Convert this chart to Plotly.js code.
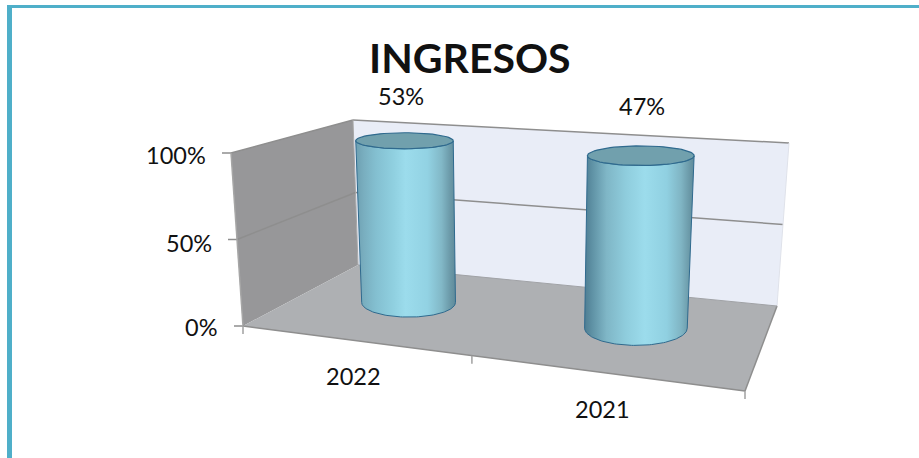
<!DOCTYPE html>
<html><head><meta charset="utf-8">
<script src="https://cdn.plot.ly/plotly-3.0.1.min.js"></script>
<style>html,body{margin:0;padding:0;background:#fff;overflow:hidden}</style>
</head><body><div id="chart" style="width:919px;height:458px"></div>
<script>
// ---- data ----
const categories = ['2022', '2021'];
const shareLabels = ['53%', '47%'];
const stackedPercent = [100, 100];
const yTicks = [0, 50, 100];
const yTickLabels = ['0%', '50%', '100%'];

// ---- scene frame: floor and ceiling planes of the 3D box (screen px), in order FL, FR, BR, BL ----
const floorQ = [[243,326],[745,391],[777,306],[358,265]];
const ceilQ  = [[231,153],[752,192],[789,143],[353,120]];
const catCentres = [0.22, 0.72];
const catTicks = [0, 0.456, 1];

function bilinear(q){
  return (u,d)=>[0,1].map(k=>{
    const f=q[0][k]+(q[1][k]-q[0][k])*u, b=q[3][k]+(q[2][k]-q[3][k])*u;
    return f+(b-f)*d;
  });
}
const Hf=bilinear(floorQ), Hc=bilinear(ceilQ);
function P(u,d,pct){
  const a=Hf(u,d), b=Hc(u,d), t=pct/100;
  return [a[0]+(b[0]-a[0])*t, a[1]+(b[1]-a[1])*t];
}
const xs=pts=>pts.map(p=>p[0]), ys=pts=>pts.map(p=>p[1]);
const traces=[];
function poly(pts,fill){
  const c=pts.concat([pts[0]]);
  traces.push({type:'scatter',mode:'none',x:xs(c),y:ys(c),fill:'toself',fillcolor:fill,hoverinfo:'skip',showlegend:false});
}
function seg(a,b,color,w){
  traces.push({type:'scatter',mode:'lines',x:[a[0],b[0]],y:[a[1],b[1]],line:{color:color,width:w},hoverinfo:'skip',showlegend:false});
}
const wallEdge='#8e8e8e';
// walls and floor
poly([P(0,0,0),P(0,1,0),P(0,1,100),P(0,0,100)],'#979799');
poly([P(0,1,0),P(1,1,0),P(1,1,100),P(0,1,100)],'#e9edf7');
poly([P(0,0,0),P(1,0,0),P(1,1,0),P(0,1,0)],'#aeb0b3');
// gridlines
yTicks.forEach(t=>{
  if(t>0){ seg(P(0,0,t),P(0,1,t),wallEdge,1.5); seg(P(0,1,t),P(1,1,t),wallEdge,1.5); }
  const a=P(0,0,t); seg([a[0]-9,a[1]],a,wallEdge,1.5);
});
seg(P(0,0,0),P(0,0,100),'#a6a6a6',1.5);
seg(P(0,1,0),P(0,1,100),'#a6a6a6',1);
seg(P(1,1,0),P(1,1,100),'#dfe2ea',1);
seg(P(0,0,0),P(1,0,0),wallEdge,1.5);
seg(P(1,0,0),P(1,1,0),wallEdge,1.5);
seg(P(0,1,0),P(1,1,0),'#a0a2a6',1);
catTicks.forEach(u=>{const a=P(u,0,0); seg(a,[a[0],a[1]+8],'#a0a0a0',1.5);});

// cylinders
const ru=0.108, rd=0.22, depth=0.57;
const edge='#2f6a8e';
const N=72;
function ellipse(c,rx,ry,from,to){
  const o=[];
  for(let i=0;i<=N;i++){const t=from+(to-from)*i/N; o.push([c[0]+rx*Math.cos(t),c[1]+ry*Math.sin(t)]);}
  return o;
}
const bodyScales=[
 [[0,'#6d9fb1'],[0.08,'#79aebf'],[0.2,'#83bfd0'],[0.38,'#90d0e0'],[0.5,'#9cdcec'],[0.72,'#92d2e3'],[0.86,'#82b8c7'],[0.95,'#6a98a7'],[1,'#5f8a9a']],
 [[0,'#4f7d92'],[0.07,'#5f92a5'],[0.2,'#7fb6c6'],[0.38,'#8fcddd'],[0.55,'#9cdcec'],[0.75,'#90d0e1'],[0.88,'#80b5c4'],[0.96,'#6a98a7'],[1,'#5f8a9a']]
];
categories.forEach((cat,i)=>{
  const u=catCentres[i], h=stackedPercent[i], k=1+0.18*(u-0.47);
  const cb=P(u,depth,0), ct=P(u,depth,h);
  const rxb=k*(P(u+ru,depth,0)[0]-P(u-ru,depth,0)[0])/2, ryb=Math.abs(P(u,depth+rd,0)[1]-P(u,depth-rd,0)[1])/2;
  const rxt=k*(P(u+ru,depth,h)[0]-P(u-ru,depth,h)[0])/2, ryt=Math.abs(P(u,depth+rd,h)[1]-P(u,depth-rd,h)[1])/2;
  const outline=ellipse(cb,rxb,ryb,0,Math.PI).concat(ellipse(ct,rxt,ryt,Math.PI,0));
  const c=outline.concat([outline[0]]);
  traces.push({type:'scatter',mode:'lines',x:xs(c),y:ys(c),fill:'toself',
    fillgradient:{type:'horizontal',colorscale:bodyScales[i]},
    line:{color:edge,width:1},hoverinfo:'skip',showlegend:false,name:cat});
  const top=ellipse(ct,rxt,ryt,0,2*Math.PI);
  traces.push({type:'scatter',mode:'lines',x:xs(top),y:ys(top),fill:'toself',fillcolor:'#71a0ad',
    line:{color:edge,width:1.2},hoverinfo:'skip',showlegend:false});
});

const txt=(t,x,y,size,bold)=>({text:bold?'<b>'+t+'</b>':t,x:x,y:y,xref:'x',yref:'y',showarrow:false,xanchor:'center',yanchor:'middle',
  font:{family:'Lato, sans-serif',size:size,color:'#111'}});
const tickLabelPos=[[201,327],[189,243],[176,155]];
const catPos=[[353,376],[602,409]];
const sharePos=[[401,96],[642,106]];
const annotations=[txt('INGRESOS',470,57,41,true)];
yTickLabels.forEach((t,i)=>annotations.push(txt(t,tickLabelPos[i][0],tickLabelPos[i][1],23.5)));
categories.forEach((t,i)=>annotations.push(txt(t,catPos[i][0],catPos[i][1],23.5)));
shareLabels.forEach((t,i)=>annotations.push(txt(t,sharePos[i][0],sharePos[i][1],23.5)));

const layout={width:919,height:458,margin:{l:0,r:0,t:0,b:0},paper_bgcolor:'#fff',plot_bgcolor:'#fff',
  xaxis:{range:[0,919],visible:false,fixedrange:true},
  yaxis:{range:[458,0],visible:false,fixedrange:true},
  annotations:annotations,
  shapes:[
    {type:'rect',xref:'paper',yref:'paper',x0:7/919,x1:12/919,y0:0,y1:1-5/458,fillcolor:'#4fafc9',line:{width:0}},
    {type:'rect',xref:'paper',yref:'paper',x0:7/919,x1:1,y0:1-8/458,y1:1-5/458,fillcolor:'#4fafc9',line:{width:0}}
  ]};
Plotly.newPlot('chart',traces,layout,{displayModeBar:false,staticPlot:true});
</script></body></html>
